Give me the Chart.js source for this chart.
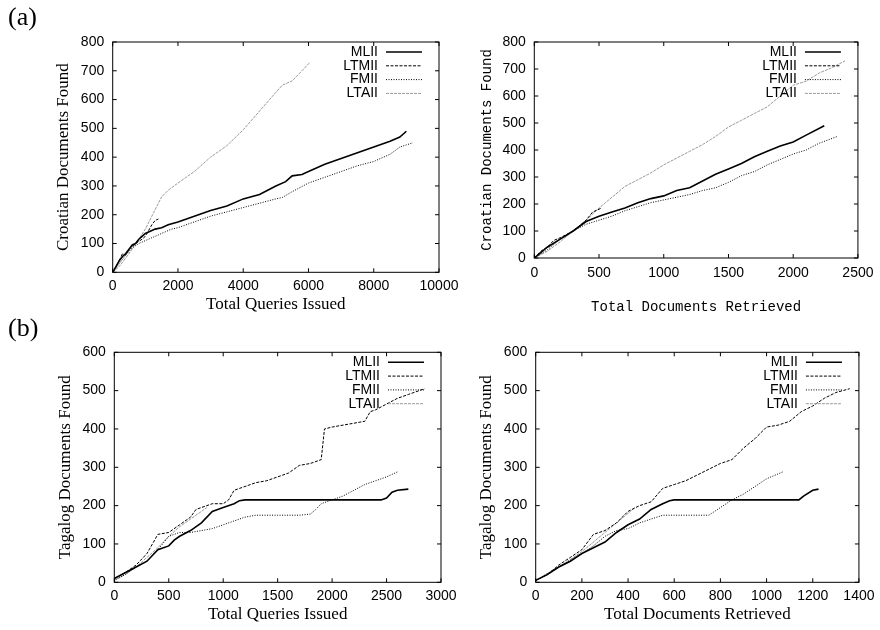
<!DOCTYPE html>
<html><head><meta charset="utf-8">
<script src="https://cdn.jsdelivr.net/npm/chart.js@4.4.0/dist/chart.umd.min.js"></script>
<style>
html,body{margin:0;padding:0;background:#fff;}
#wrap{position:relative;width:880px;height:630px;overflow:hidden;background:#fff;}
canvas{position:absolute;left:0;top:0;}
.lab{position:absolute;font-family:'Liberation Serif',serif;font-size:26px;line-height:26px;color:#000;}
</style></head><body>
<div id="wrap">
<canvas id="c1" width="880" height="630"></canvas>
<canvas id="c2" width="880" height="630"></canvas>
<canvas id="c3" width="880" height="630"></canvas>
<canvas id="c4" width="880" height="630"></canvas>
<div class="lab" style="left:8px;top:3.5px">(a)</div>
<div class="lab" style="left:8px;top:315px">(b)</div>
</div>
<script>
// ---------- DATA ----------
const seriesNames = ['MLII', 'LTMII', 'FMII', 'LTAII'];

// (a) left: Croatian vs Total Queries Issued
const croQ_MLII_x = [0,100,200,300,400,500,600,700,800,900,1000,1100,1300,1500,1700,2000,2500,3000,3500,4000,4500,5000,5300,5500,5800,6000,6500,7000,7500,8000,8500,8800,9000];
const croQ_MLII_y = [0,20,40,55,65,80,95,100,115,125,135,140,150,155,165,175,195,215,230,255,270,300,315,335,340,350,375,395,415,435,455,470,490];
const croQ_LTMII_x = [0,100,200,300,400,500,700,900,1000,1100,1200,1300,1400];
const croQ_LTMII_y = [0,20,40,65,60,80,100,115,125,145,165,180,185];
const croQ_FMII_x = [0,200,400,600,800,1000,1200,1400,1600,1800,2000,2500,3000,3500,4000,4500,5000,5200,5500,6000,6500,7000,7500,8000,8500,8800,9200];
const croQ_FMII_y = [0,30,60,85,100,110,120,130,140,150,155,175,195,210,225,240,255,260,280,310,330,350,370,385,410,435,450];
const croQ_LTAII_x = [0,200,500,800,1000,1200,1400,1500,1700,2000,2500,3000,3500,4000,4500,5000,5200,5500,5800,6050];
const croQ_LTAII_y = [0,20,65,115,150,195,240,262,285,310,350,400,440,495,560,625,650,665,700,730];

// (a) right: Croatian vs Total Documents Retrieved
const croD_MLII_x = [0,100,200,300,400,500,600,700,800,900,1000,1100,1200,1300,1400,1500,1600,1700,1800,1900,2000,2100,2240];
const croD_MLII_y = [0,40,70,100,135,155,170,185,205,220,230,250,260,285,310,330,350,375,395,415,430,455,490];
const croD_LTMII_x = [0,50,100,150,200,300,400,450,520];
const croD_LTMII_y = [0,25,40,65,75,100,140,170,185];
const croD_FMII_x = [0,100,200,300,400,500,600,700,800,900,1000,1100,1200,1300,1400,1500,1600,1700,1800,1900,2000,2100,2200,2340];
const croD_FMII_y = [0,30,70,100,125,140,155,175,190,205,215,225,235,250,260,280,305,320,345,365,385,400,425,450];
const croD_LTAII_x = [0,100,200,300,400,500,600,700,800,900,1000,1100,1200,1300,1400,1500,1600,1700,1800,1900,2000,2100,2200,2300,2400];
const croD_LTAII_y = [0,25,60,100,140,185,225,265,290,315,345,370,395,420,450,485,510,535,560,600,640,655,685,705,730];

// (b) left: Tagalog vs Total Queries Issued
const tagQ_MLII_x = [0,100,200,300,400,500,550,600,700,800,900,1000,1100,1150,1200,2450,2500,2550,2600,2700];
const tagQ_MLII_y = [10,25,40,55,85,95,110,120,135,155,185,195,205,213,215,215,220,235,240,243];
const tagQ_LTMII_x = [0,100,200,300,400,500,600,700,750,800,900,1000,1050,1100,1200,1300,1400,1500,1600,1700,1800,1900,1930,2000,2100,2200,2300,2350,2400,2500,2600,2700,2850];
const tagQ_LTMII_y = [10,25,45,75,125,130,150,170,190,195,205,205,215,240,250,260,265,275,285,305,310,320,400,405,410,415,420,445,450,465,480,490,505];
const tagQ_FMII_x = [0,100,200,300,400,500,600,700,800,900,1000,1100,1200,1300,1400,1500,1600,1700,1800,1850,1900,2000,2100,2200,2300,2400,2500,2600];
const tagQ_FMII_y = [5,20,40,55,85,120,130,130,135,140,150,160,170,175,175,175,175,175,178,190,205,215,225,240,255,265,275,288];
const tagQ_LTAII_x = [0,100,200,300,400,500,600,700,850];
const tagQ_LTAII_y = [5,20,40,65,90,120,145,165,195];

// (b) right: Tagalog vs Total Documents Retrieved
const tagD_MLII_x = [0,50,100,150,200,250,300,350,400,450,500,550,580,600,1140,1160,1200,1225];
const tagD_MLII_y = [5,20,40,55,75,90,105,130,150,165,190,205,213,215,215,225,240,243];
const tagD_LTMII_x = [0,50,100,150,200,250,300,350,400,450,500,550,600,650,700,750,800,850,900,950,1000,1050,1100,1150,1200,1250,1300,1360];
const tagD_LTMII_y = [5,20,45,65,85,125,135,155,185,200,210,245,255,265,280,295,310,320,350,375,405,410,420,445,460,480,495,505];
const tagD_FMII_x = [0,100,200,250,300,350,400,450,500,550,600,750,800,850,900,950,1000,1070];
const tagD_FMII_y = [5,40,75,95,120,135,140,155,165,175,175,175,195,215,230,250,270,288];
const tagD_LTAII_x = [0,100,200,300,400,430];
const tagD_LTAII_y = [5,40,80,130,180,195];

// tick settings
const croQ_xTicks = {max: 10000, step: 2000};
const croD_xTicks = {max: 2500, step: 500};
const tagQ_xTicks = {max: 3000, step: 500};
const tagD_xTicks = {max: 1400, step: 200};
const cro_yTicks = {max: 800, step: 100};
const tag_yTicks = {max: 600, step: 100};

// ---------- STYLES ----------
const SANS = '"Liberation Sans", Arial, sans-serif';
const SERIF = '"Liberation Serif", "Times New Roman", serif';
const MONO = '"Liberation Mono", "Courier New", monospace';
const seriesStyle = [
  {color: '#000000', width: 1.6, dash: []},
  {color: '#000000', width: 1, dash: [3, 1.5]},
  {color: '#000000', width: 1, dash: [1, 1.5]},
  {color: '#9a9a9a', width: 1, dash: [3, 1]}
];

function pts(xs, ys) { return xs.map((x, i) => ({x: x, y: ys[i]})); }

const framePlugin = {
  id: 'frameLegend',
  afterDatasetsDraw(chart) {
    const ctx = chart.ctx, a = chart.chartArea, xs = chart.scales.x, ys = chart.scales.y;
    ctx.save();
    ctx.setLineDash([]);
    ctx.strokeStyle = '#000'; ctx.lineWidth = 1;
    ctx.beginPath();
    xs.ticks.forEach(t => {
      const p = xs.getPixelForValue(t.value);
      ctx.moveTo(p, a.bottom); ctx.lineTo(p, a.bottom - 4);
      ctx.moveTo(p, a.top); ctx.lineTo(p, a.top + 4);
    });
    ys.ticks.forEach(t => {
      const p = ys.getPixelForValue(t.value);
      ctx.moveTo(a.left, p); ctx.lineTo(a.left + 4, p);
      ctx.moveTo(a.right, p); ctx.lineTo(a.right - 4, p);
    });
    ctx.stroke();
    ctx.strokeRect(a.left, a.top, a.right - a.left, a.bottom - a.top);
    chart.data.datasets.forEach((ds, i) => {
      const yy = a.top + 10 + 13.8 * i;
      ctx.font = '14px ' + SANS;
      ctx.textAlign = 'right'; ctx.textBaseline = 'middle'; ctx.fillStyle = '#000';
      ctx.fillText(ds.label, a.right - 61, yy);
      ctx.beginPath();
      ctx.strokeStyle = ds.borderColor; ctx.lineWidth = ds.borderWidth;
      ctx.setLineDash(ds.borderDash || []);
      ctx.moveTo(a.right - 53, yy); ctx.lineTo(a.right - 17, yy);
      ctx.stroke();
    });
    ctx.restore();
  }
};

function makeChart(id, p) {
  const Wy = 60;
  const xFont = p.xTitleFont, yFont = p.yTitleFont;
  const xLh = xFont.size * 1.2, yLh = yFont.size * 1.2;
  const datasets = p.series.map((s, i) => ({
    label: seriesNames[i],
    data: pts(s[0], s[1]),
    borderColor: seriesStyle[i].color,
    borderWidth: seriesStyle[i].width,
    borderDash: seriesStyle[i].dash,
    pointRadius: 0,
    tension: 0,
    fill: false,
    order: i === 0 ? -1 : i
  }));
  return new Chart(document.getElementById(id), {
    type: 'line',
    data: {datasets: datasets},
    options: {
      responsive: false, animation: false, devicePixelRatio: 1,
      layout: {padding: {left: p.plot.l - Wy, right: 880 - p.plot.r, top: p.plot.t, bottom: 630 - p.plot.b - p.Hx}},
      plugins: {legend: {display: false}, tooltip: {enabled: false}, title: {display: false}},
      scales: {
        x: {
          type: 'linear', min: 0, max: p.xt.max,
          afterFit(s) { s.height = p.Hx; },
          grid: {display: false, drawTicks: false, tickLength: 0},
          border: {display: false},
          ticks: {stepSize: p.xt.step, padding: p.xTickPad, color: '#000', font: {family: SANS, size: 14}, maxRotation: 0, autoSkip: false, callback: v => String(v)},
          title: {display: true, text: p.xTitle, color: '#000', font: xFont,
                  padding: {top: 0, bottom: p.plot.b + p.Hx - xLh / 2 - p.xTitleC}}
        },
        y: {
          type: 'linear', min: 0, max: p.yt.max,
          afterFit(s) { s.width = Wy; },
          grid: {display: false, drawTicks: false, tickLength: 0},
          border: {display: false},
          ticks: {stepSize: p.yt.step, padding: 8.5, color: '#000', font: {family: SANS, size: 14}, autoSkip: false, callback: v => String(v)},
          title: {display: true, text: p.yTitle, color: '#000', font: yFont,
                  padding: {top: p.yTitleC - (p.plot.l - Wy) - yLh / 2, bottom: 0}}
        }
      }
    },
    plugins: [framePlugin]
  });
}

const serifTitle = {family: SERIF, size: 17};
const monoTitle = {family: MONO, size: 14};

makeChart('c1', {
  plot: {l: 112.7, t: 42, r: 439, b: 272.3}, Hx: 45, xTickPad: 5,
  xt: croQ_xTicks, yt: cro_yTicks,
  xTitle: 'Total Queries Issued', yTitle: 'Croatian Documents Found',
  xTitleFont: serifTitle, yTitleFont: serifTitle, xTitleC: 305, yTitleC: 64,
  series: [[croQ_MLII_x, croQ_MLII_y], [croQ_LTMII_x, croQ_LTMII_y], [croQ_FMII_x, croQ_FMII_y], [croQ_LTAII_x, croQ_LTAII_y]]
});
makeChart('c2', {
  plot: {l: 534.3, t: 42, r: 861, b: 258}, Hx: 60, xTickPad: 6.5,
  xt: croD_xTicks, yt: cro_yTicks,
  xTitle: 'Total Documents Retrieved', yTitle: 'Croatian Documents Found',
  xTitleFont: monoTitle, yTitleFont: monoTitle, xTitleC: 307, yTitleC: 487.7,
  series: [[croD_MLII_x, croD_MLII_y], [croD_LTMII_x, croD_LTMII_y], [croD_FMII_x, croD_FMII_y], [croD_LTAII_x, croD_LTAII_y]]
});
makeChart('c3', {
  plot: {l: 114.3, t: 352.3, r: 441, b: 582.3}, Hx: 45, xTickPad: 5.5,
  xt: tagQ_xTicks, yt: tag_yTicks,
  xTitle: 'Total Queries Issued', yTitle: 'Tagalog Documents Found',
  xTitleFont: serifTitle, yTitleFont: serifTitle, xTitleC: 615, yTitleC: 66,
  series: [[tagQ_MLII_x, tagQ_MLII_y], [tagQ_LTMII_x, tagQ_LTMII_y], [tagQ_FMII_x, tagQ_FMII_y], [tagQ_LTAII_x, tagQ_LTAII_y]]
});
makeChart('c4', {
  plot: {l: 535.7, t: 352.3, r: 862.3, b: 582.3}, Hx: 45, xTickPad: 5.5,
  xt: tagD_xTicks, yt: tag_yTicks,
  xTitle: 'Total Documents Retrieved', yTitle: 'Tagalog Documents Found',
  xTitleFont: serifTitle, yTitleFont: serifTitle, xTitleC: 615, yTitleC: 486.7,
  series: [[tagD_MLII_x, tagD_MLII_y], [tagD_LTMII_x, tagD_LTMII_y], [tagD_FMII_x, tagD_FMII_y], [tagD_LTAII_x, tagD_LTAII_y]]
});
</script>
</body></html>
